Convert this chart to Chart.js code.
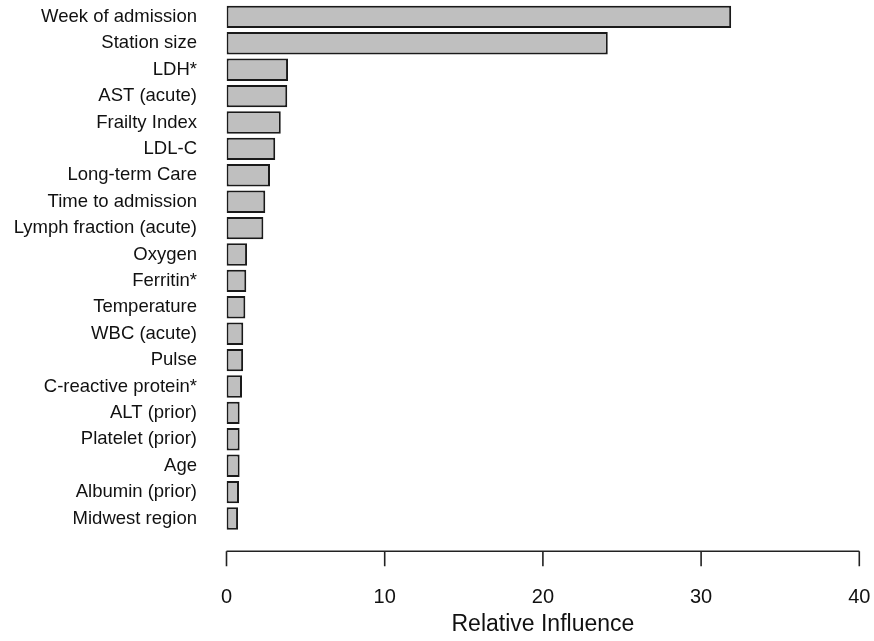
<!DOCTYPE html>
<html>
<head>
<meta charset="utf-8">
<script src="https://cdn.jsdelivr.net/npm/chart.js@4.4.1/dist/chart.umd.min.js"></script>
<style>
  html, body { margin: 0; padding: 0; background: #fff; }
  #wrap { width: 874px; height: 641px; }
</style>
</head>
<body>
<div id="wrap"><canvas id="influenceChart" width="874" height="641"></canvas></div>
<script>
// variables, top to bottom
const variables = [
  'Week of admission', 'Station size', 'LDH*', 'AST (acute)', 'Frailty Index',
  'LDL-C', 'Long-term Care', 'Time to admission', 'Lymph fraction (acute)', 'Oxygen',
  'Ferritin*', 'Temperature', 'WBC (acute)', 'Pulse', 'C-reactive protein*',
  'ALT (prior)', 'Platelet (prior)', 'Age', 'Albumin (prior)', 'Midwest region'
];
const influence = [
  31.9, 24.1, 3.89, 3.84, 3.43,
  3.08, 2.75, 2.45, 2.33, 1.30,
  1.25, 1.19, 1.06, 1.05, 0.98,
  0.83, 0.83, 0.83, 0.79, 0.73
];
const xTicks = [0, 10, 20, 30, 40];

const FONT = '"Liberation Sans", Arial, sans-serif';

// R-style detached x axis line below the bars
const detachedAxis = {
  id: 'detachedAxis',
  afterDraw(chart) {
    const x = chart.scales.x;
    const ctx = chart.ctx;
    const y0 = chart.chartArea.bottom + 19.5;
    ctx.save();
    ctx.strokeStyle = '#222';
    ctx.lineWidth = 1.6;
    ctx.beginPath();
    ctx.moveTo(x.getPixelForValue(xTicks[0]), y0);
    ctx.lineTo(x.getPixelForValue(xTicks[xTicks.length - 1]), y0);
    xTicks.forEach(t => {
      const px = x.getPixelForValue(t);
      ctx.moveTo(px, y0);
      ctx.lineTo(px, y0 + 15);
    });
    ctx.stroke();
    ctx.restore();
  }
};

new Chart(document.getElementById('influenceChart').getContext('2d'), {
  type: 'bar',
  data: {
    labels: variables,
    datasets: [{
      data: influence,
      backgroundColor: '#bfbfbf',
      borderColor: '#1a1a1a',
      borderWidth: 2,
      borderSkipped: false,
      categoryPercentage: 1,
      barPercentage: 0.85
    }]
  },
  options: {
    indexAxis: 'y',
    responsive: false,
    animation: false,
    layout: { padding: { top: 3.7, right: 14.7, bottom: 0, left: 0 } },
    plugins: { legend: { display: false }, tooltip: { enabled: false } },
    scales: {
      x: {
        min: 0, max: 40,
        afterBuildTicks(scale) { scale.ticks = xTicks.map(v => ({ value: v })); },
        afterFit(scale) {
          scale.height = 109.3;
          scale.paddingLeft = 0;
          scale.paddingRight = 0;
        },
        grid: { display: false, drawTicks: false },
        border: { display: false },
        ticks: { color: '#111', padding: 54, font: { family: FONT, size: 20 } },
        title: {
          display: true,
          text: 'Relative Influence',
          color: '#111',
          padding: { top: 0, bottom: 3 },
          font: { family: FONT, size: 23 }
        }
      },
      y: {
        afterFit(scale) {
          scale.width = 226.5;
          scale.paddingTop = 0;
          scale.paddingBottom = 0;
        },
        grid: { display: false, drawTicks: false },
        border: { display: false },
        ticks: { color: '#111', padding: 29.5, font: { family: FONT, size: 18.5 }, autoSkip: false }
      }
    }
  },
  plugins: [detachedAxis]
});
</script>
</body>
</html>
